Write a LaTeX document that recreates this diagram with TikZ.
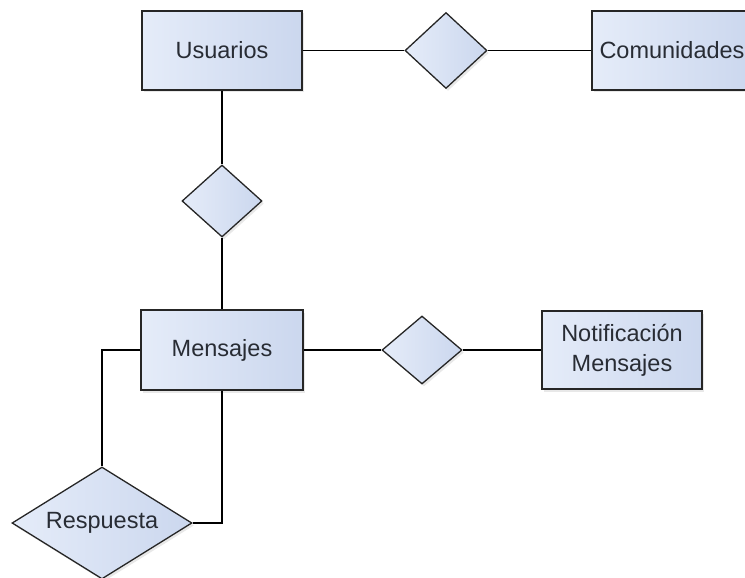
\documentclass[tikz,border=0pt]{standalone}
\usepackage{fontspec}
\setmainfont{Liberation Sans}
\usetikzlibrary{shapes.geometric,shadows}
\definecolor{boxlight}{RGB}{229,236,249}
\definecolor{boxdark}{RGB}{203,215,238}
\definecolor{edgeline}{RGB}{38,38,38}
\definecolor{inktext}{RGB}{40,44,52}
\begin{document}
\begin{tikzpicture}[x=1pt,y=-1pt,
  font=\fontsize{23.5}{30}\selectfont,
  shapebase/.style={draw=edgeline, line width=1.3pt, inner sep=0pt,
    left color=boxlight, right color=boxdark, text=inktext,
    drop shadow={opacity=0.18, shadow xshift=2pt, shadow yshift=-2.5pt}},
  entity/.style={shapebase, rectangle, minimum width=160pt, minimum height=79pt, align=center},
  relation/.style={shapebase, diamond, shape aspect=1.6},
  link/.style={draw=black, line width=1.2pt}]
  \useasboundingbox (0,0) rectangle (745,578);
  \clip (0,0) rectangle (745,578);

  % entities
  \node[entity] (usu) at (222,50.5) {Usuarios};
  \node[entity] (com) at (672,50.5) {Comunidades};
  \node[entity, minimum width=162pt, minimum height=80pt] (men) at (222,350) {Mensajes};
  \node[entity, minimum height=78pt] (noti) at (622,350) {Notificación\\Mensajes};

  % relationships
  \node[relation, minimum width=82pt, minimum height=76pt] (d1) at (446,50.5) {};
  \node[relation, minimum width=80pt, minimum height=72pt] (d2) at (222,201) {};
  \node[relation, minimum width=80pt, minimum height=68pt] (d3) at (422,350) {};
  \node[relation, minimum width=180pt, minimum height=112pt] (resp) at (102,523) {Respuesta};

  % connectors
  \draw[link] (usu.east) -- (d1.west);
  \draw[link] (d1.east) -- (com.west);
  \draw[link] (usu.south) -- (d2.north);
  \draw[link] (d2.south) -- (men.north);
  \draw[link] (men.east) -- (d3.west);
  \draw[link] (d3.east) -- (noti.west);
  \draw[link] (men.west) -| (resp.north);
  \draw[link] (men.south) |- (resp.east);
\end{tikzpicture}
\end{document}
